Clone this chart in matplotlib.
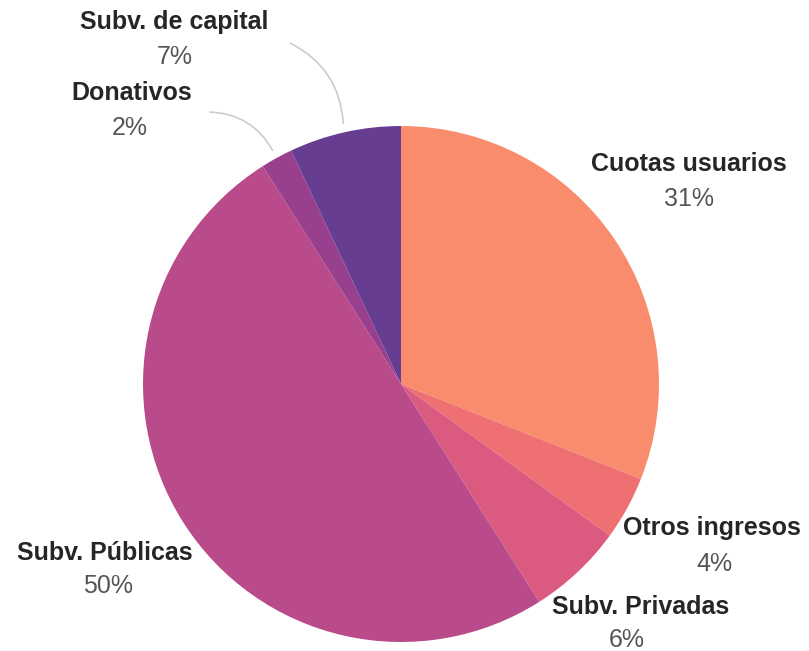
import numpy as np
import matplotlib.pyplot as plt
from matplotlib.patches import FancyArrowPatch

# data (clockwise from 12 o'clock)
labels = ['Cuotas usuarios', 'Otros ingresos', 'Subv. Privadas',
          'Subv. Públicas', 'Donativos', 'Subv. de capital']
shares = [31, 4, 6, 50, 2, 7]
colors = ['#FA8C6E', '#EE7073', '#DA5A80', '#B94B8A', '#983F8E', '#673D92']

W, H = 809, 651
cx, cy, r = 401, H - 384, 258

fig = plt.figure(figsize=(W / 100, H / 100), dpi=100)
ax = fig.add_axes([0, 0, 1, 1])
ax.pie(shares, colors=colors, startangle=90, counterclock=False,
       center=(cx, cy), radius=r, wedgeprops=dict(linewidth=0))
ax.set_xlim(0, W)
ax.set_ylim(0, H)
ax.set_aspect('equal')
ax.axis('off')

# label placement: (x, y of name) in pixel coords from top
label_pos = {
    'Cuotas usuarios': (689, 164),
    'Otros ingresos': (712, 528),
    'Subv. Privadas': (641, 607),
    'Subv. Públicas': (105, 553),
    'Donativos': (132, 93),
    'Subv. de capital': (174, 22),
}
pct_pos = {
    'Cuotas usuarios': (689, 199),
    'Otros ingresos': (714, 564),
    'Subv. Privadas': (627, 640),
    'Subv. Públicas': (108, 586),
    'Donativos': (130, 128),
    'Subv. de capital': (175, 57),
}
leader_start = {'Donativos': (207, 112), 'Subv. de capital': (288, 42)}

fs = 18
cum = np.cumsum([0] + shares)
for i, lab in enumerate(labels):
    x, y = label_pos[lab]
    ax.text(x, H - y, lab, ha='center', va='center', fontsize=fs,
            fontweight='bold', family='Liberation Sans', color='#262626')
    px, py = pct_pos[lab]
    ax.text(px, H - py, f'{shares[i]}%', ha='center', va='center',
            fontsize=fs, family='Liberation Sans', color='#555555')
    if lab in leader_start:
        mid = (cum[i] + cum[i + 1]) / 2 / 100 * 2 * np.pi
        ex = cx + (r + 6) * np.sin(mid)
        ey = cy + (r + 6) * np.cos(mid)
        sx, sy = leader_start[lab]
        arc = FancyArrowPatch((sx, H - sy), (ex, ey), arrowstyle='-',
                              connectionstyle='arc3,rad=-0.3',
                              color='#cccccc', lw=1.2)
        ax.add_patch(arc)

fig.savefig('out.png', dpi=100, facecolor='white')
